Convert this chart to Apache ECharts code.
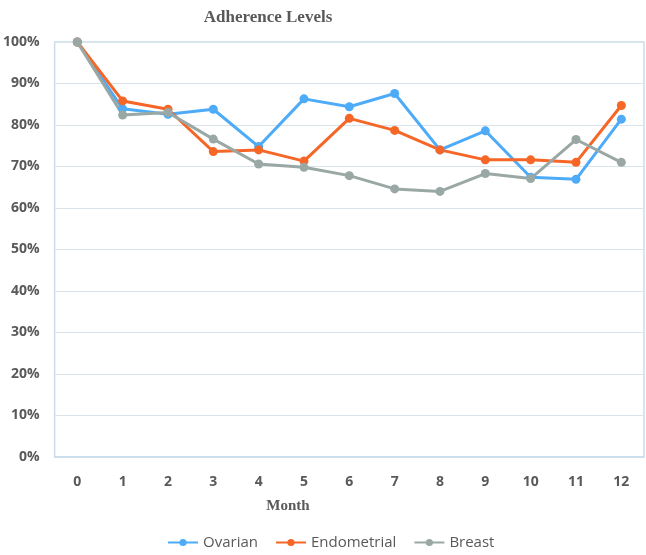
<!DOCTYPE html>
<html>
<head>
<meta charset="utf-8">
<script src="https://cdn.jsdelivr.net/npm/echarts@6/dist/echarts.min.js"></script>
<style>
  html, body { margin: 0; padding: 0; background: #fff; }
  #chart { width: 646px; height: 555px; }
</style>
</head>
<body>
<div id="chart"></div>
<script>
const months = ["0", "1", "2", "3", "4", "5", "6", "7", "8", "9", "10", "11", "12"];
const ovarian = [100, 83.9, 82.6, 83.8, 74.8, 86.3, 84.4, 87.6, 74.0, 78.6, 67.4, 66.9, 81.4];
const endometrial = [100, 85.8, 83.8, 73.6, 74.0, 71.3, 81.6, 78.7, 74.0, 71.6, 71.6, 71.0, 84.7];
const breast = [100, 82.4, 83.0, 76.6, 70.6, 69.8, 67.8, 64.6, 64.0, 68.3, 67.1, 76.5, 71.0];

const chart = echarts.init(document.getElementById("chart"), null, { renderer: "canvas" });

function makeSeries(name, data, color) {
  return {
    name: name,
    type: "line",
    data: data,
    symbol: "circle",
    symbolSize: 9,
    showSymbol: true,
    lineStyle: { color: color, width: 3 },
    itemStyle: { color: color },
  };
}

chart.setOption({
  animation: false,
  title: [
    {
      text: "Adherence Levels",
      left: 263,
      top: 4,
      textAlign: "center",
      textStyle: { fontFamily: "Liberation Serif", fontWeight: "bold", fontSize: 17, color: "#595959" },
    },
    {
      text: "Month",
      left: 283,
      top: 494,
      textAlign: "center",
      textStyle: { fontFamily: "Liberation Serif", fontWeight: "bold", fontSize: 15, color: "#595959" },
    },
  ],
  grid: { left: 54, right: 2, top: 42, bottom: 98, show: true, borderColor: "#C9DDEE", borderWidth: 1.5 },
  legend: {
    bottom: 0,
    left: 162,
    itemGap: 17,
    itemWidth: 30,
    itemHeight: 9,
    textStyle: { fontFamily: "Open Sans", fontSize: 15, color: "#595959" },
    data: ["Ovarian", "Endometrial", "Breast"],
  },
  xAxis: {
    type: "category",
    data: months,
    boundaryGap: true,
    axisLine: { show: true, lineStyle: { color: "#C9DDEE", width: 1.5 } },
    axisTick: { show: false },
    axisLabel: { margin: 18, fontFamily: "Open Sans", fontWeight: "bold", fontSize: 14, color: "#595959" },
  },
  yAxis: {
    type: "value",
    min: 0,
    max: 100,
    interval: 10,
    axisLine: { show: false },
    axisTick: { show: false },
    axisLabel: {
      formatter: "{value}%",
      margin: 15,
      fontFamily: "Open Sans",
      fontWeight: "bold",
      fontSize: 14,
      color: "#595959",
    },
    splitLine: { lineStyle: { color: "#D9E4EA", width: 1.2 } },
  },
  series: [
    makeSeries("Ovarian", ovarian, "#4DABF7"),
    makeSeries("Endometrial", endometrial, "#F56627"),
    makeSeries("Breast", breast, "#9AA8A5"),
  ],
});
</script>
</body>
</html>
